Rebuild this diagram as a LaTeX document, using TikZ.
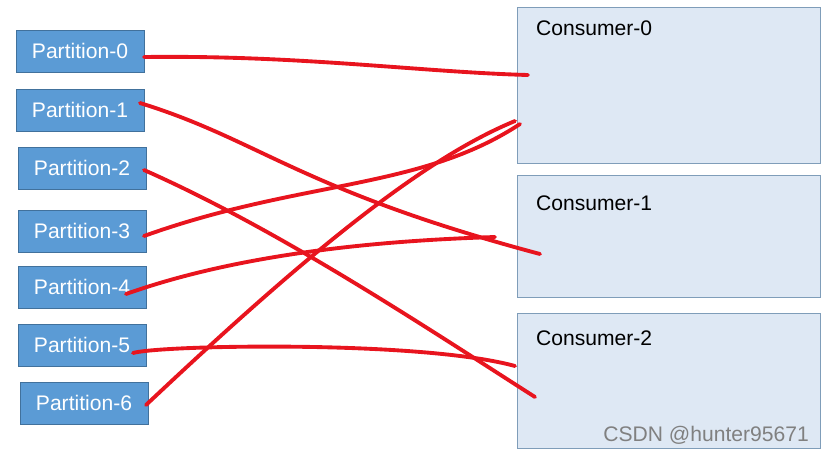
\documentclass[tikz,border=0pt]{standalone}
\usepackage{fontspec}
\setmainfont{Liberation Sans}
\definecolor{partfill}{HTML}{5B9BD5}
\definecolor{partdraw}{HTML}{41719C}
\definecolor{consfill}{HTML}{DEE8F4}
\definecolor{consdraw}{HTML}{7F9DB9}
\definecolor{wirered}{HTML}{E8141E}
\begin{document}
\begin{tikzpicture}[x=0.02cm,y=-0.02cm,
    part/.style={draw=partdraw, fill=partfill, text=white, minimum width=2.56cm,
      minimum height=0.84cm, inner sep=0pt, font=\large},
    cons/.style={draw=consdraw, fill=consfill},
    link/.style={draw=wirered, line width=2.2pt, line cap=round}]
    \useasboundingbox (0,0) rectangle (830,451);

    % Partitions
    \node[part] (p0) at (80,51) {Partition-0};
    \node[part] (p1) at (80,110) {Partition-1};
    \node[part] (p2) at (82,168) {Partition-2};
    \node[part] (p3) at (82,231) {Partition-3};
    \node[part] (p4) at (82,287) {Partition-4};
    \node[part] (p5) at (82,345) {Partition-5};
    \node[part] (p6) at (84,403) {Partition-6};

    % Consumers
    \draw[cons] (517,7) rectangle (820,163);
    \draw[cons] (517,175) rectangle (820,297);
    \draw[cons] (517,313) rectangle (820,448);
    \node[anchor=west, font=\large] (c0) at (530,28) {Consumer-0};
    \node[anchor=west, font=\large] (c1) at (530,203) {Consumer-1};
    \node[anchor=west, font=\large] (c2) at (530,338) {Consumer-2};

    % Line ends
    \coordinate (e0) at (528,75);
    \coordinate (e1) at (540,254);
    \coordinate (e2) at (535,397);
    \coordinate (e3) at (520,124);
    \coordinate (e4) at (495,237);
    \coordinate (e5) at (515,366);
    \coordinate (e6) at (515,121);

    % Assignments
    \draw[link] (144,57) .. controls (300,55) and (420,72) .. (e0);
    \draw[link] (140,103) .. controls (260,140) and (300,190) .. (e1);
    \draw[link] (144,170) .. controls (280,230) and (430,330) .. (e2);
    \draw[link] (144,236) .. controls (300,180) and (420,190) .. (e3);
    \draw[link] (126,294) .. controls (250,250) and (400,240) .. (e4);
    \draw[link] (133,353) .. controls (160,345) and (420,340) .. (e5);
    \draw[link] (146,405) .. controls (300,260) and (420,160) .. (e6);

    \node[text=gray, anchor=east, font=\large] (mark) at (815,435) {CSDN @hunter95671};
\end{tikzpicture}
\end{document}
